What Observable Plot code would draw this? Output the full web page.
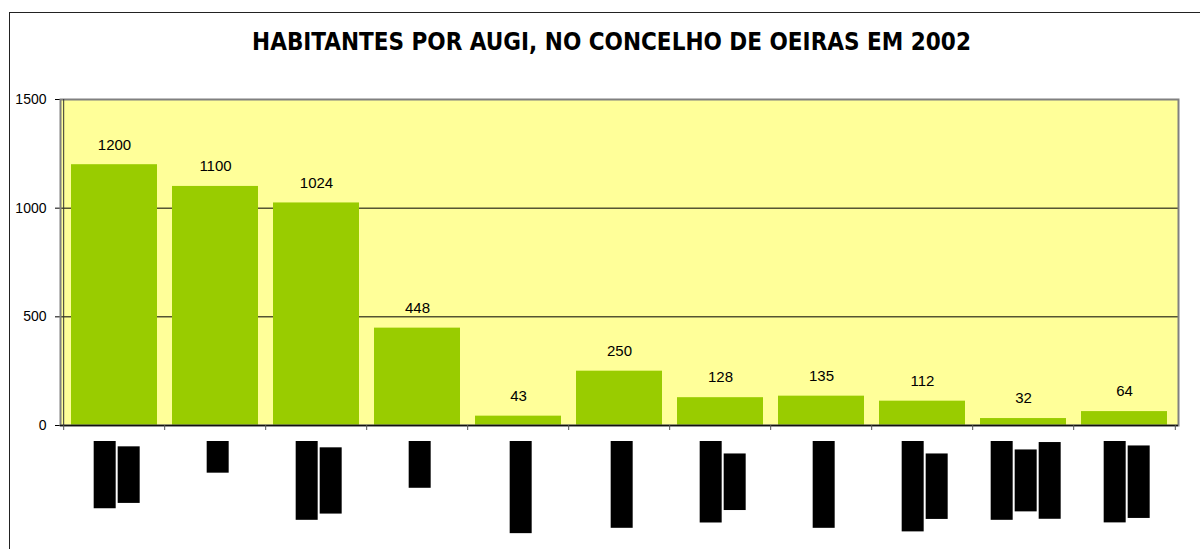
<!DOCTYPE html>
<html>
<head>
<meta charset="utf-8">
<script src="https://cdn.jsdelivr.net/npm/d3@7"></script>
<script src="https://cdn.jsdelivr.net/npm/@observablehq/plot@0.6"></script>
<style>
html, body { margin: 0; padding: 0; background: #fff; overflow: hidden; }
#frame { position: absolute; left: 9px; top: 12px; width: 1400px; height: 800px;
  border-left: 1px solid #222; border-top: 1px solid #222; }
#chart { position: absolute; left: 0; top: 0; width: 1200px; }
#title { box-sizing: border-box; height: 80px; padding-top: 30px; padding-left: 23px;
  text-align: center; font-family: "DejaVu Sans Condensed", "DejaVu Sans", sans-serif;
  font-stretch: condensed; font-weight: bold; font-size: 24px; line-height: 24px; color: #000; white-space: nowrap; }
svg { display: block; }
</style>
</head>
<body>
<div id="frame"></div>
<div id="chart">
  <div id="title">HABITANTES POR AUGI, NO CONCELHO DE OEIRAS EM 2002</div>
</div>
<script>
// Category labels are blacked out (redacted) in the original; the lines below are placeholder text
const augiLines = [
  ["Casal do", "Moinho"],
  ["Alto"],
  ["Outeiro de", "Pombais"],
  ["Bairro"],
  ["Pinhal Norte"],
  ["Casal Novo"],
  ["Cabeço do", "Outeiro"],
  ["Lugar Novo"],
  ["Cabeço Alto", "do Norte"],
  ["Outeiro do", "Pinhal e", "Vale Novo"],
  ["Quinta das", "Pedreiras"]
];
const augiNames = augiLines.map(l => l.join(" "));
const habitantes = [1200, 1100, 1024, 448, 43, 250, 128, 135, 112, 32, 64];
const yTicks = [0, 500, 1000, 1500];
const gridValues = [500, 1000];

const data = augiNames.map((name, i) => ({name, value: habitantes[i], label: augiLines[i].join("\n")}));

const W = 1200, H = 469, mL = 60, mR = 22, mT = 19, mB = 124;
const step = (W - mL - mR) / augiNames.length;

const plot = Plot.plot({
  width: W, height: H,
  marginLeft: mL, marginRight: mR, marginTop: mT, marginBottom: mB,
  style: {fontFamily: '"Liberation Sans", Arial, sans-serif', fontSize: "14px", color: "#000", background: "transparent", overflow: "visible"},
  x: {domain: augiNames, paddingInner: 0.15, paddingOuter: 0.075, axis: null},
  y: {domain: [0, 1500], ticks: yTicks, tickSize: 5, tickPadding: 9, tickFormat: "d", label: null},
  marks: [
    Plot.frame({fill: "#FFFF99"}),
    Plot.ruleY(gridValues, {stroke: "#000", strokeWidth: 1}),
    Plot.barY(data, {x: "name", y: "value", fill: "#99CC00"}),
    Plot.frame({stroke: "#808080", strokeWidth: 2}),
    Plot.ruleY([0], {stroke: "#111", strokeWidth: 1.5}),
    Plot.ruleX([augiNames[0]], {x: d => d, dx: -step / 2, stroke: "#333"}),
    Plot.ruleX(augiNames, {x: d => d, y1: 0, y2: 0, insetBottom: -5, dx: -step / 2, stroke: "#555"}),
    Plot.ruleX([augiNames[augiNames.length - 1]], {x: d => d, y1: 0, y2: 0, insetBottom: -5, dx: step / 2, stroke: "#555"}),
    Plot.text(data, {x: "name", y: "value", text: d => String(d.value), dy: -20, fontSize: 15, fill: "#000"}),
    Plot.text(data, {x: "name", text: "label", frameAnchor: "bottom", rotate: -90, textAnchor: "middle",
      lineAnchor: "middle", lineHeight: 1.5, fontSize: 16, fill: "#000"})
  ]
});

document.getElementById("chart").appendChild(plot);

// Redaction boxes behind the (hidden) category labels, sized from the rendered text
const axisY0 = plot.scale("y").apply(0);
const gap = 16, padL = 2, thick = 22;
const textGroups = plot.querySelectorAll('g[aria-label="text"]');
const g = textGroups[textGroups.length - 1];
const svgTop = plot.getBoundingClientRect().top;
g.querySelectorAll("text").forEach(t => {
  const tf = t.getAttribute("transform") || "";
  const r = t.getBoundingClientRect();
  const shift = (axisY0 + gap + padL) - (r.top - svgTop);
  const ntf = `translate(0,${shift}) ${tf}`;
  const ts = Array.from(t.querySelectorAll("tspan"));
  const parts = ts.length ? ts : [t];
  parts.forEach(p => {
    const bb = p.getBBox();
    const rect = document.createElementNS("http://www.w3.org/2000/svg", "rect");
    rect.setAttribute("x", bb.x - padL);
    rect.setAttribute("y", bb.y + bb.height / 2 - thick / 2);
    rect.setAttribute("width", bb.width + 2 * padL);
    rect.setAttribute("height", thick);
    rect.setAttribute("transform", ntf);
    rect.setAttribute("fill", "#000");
    t.parentNode.insertBefore(rect, t);
  });
  t.setAttribute("transform", ntf);
});
</script>
</body>
</html>
